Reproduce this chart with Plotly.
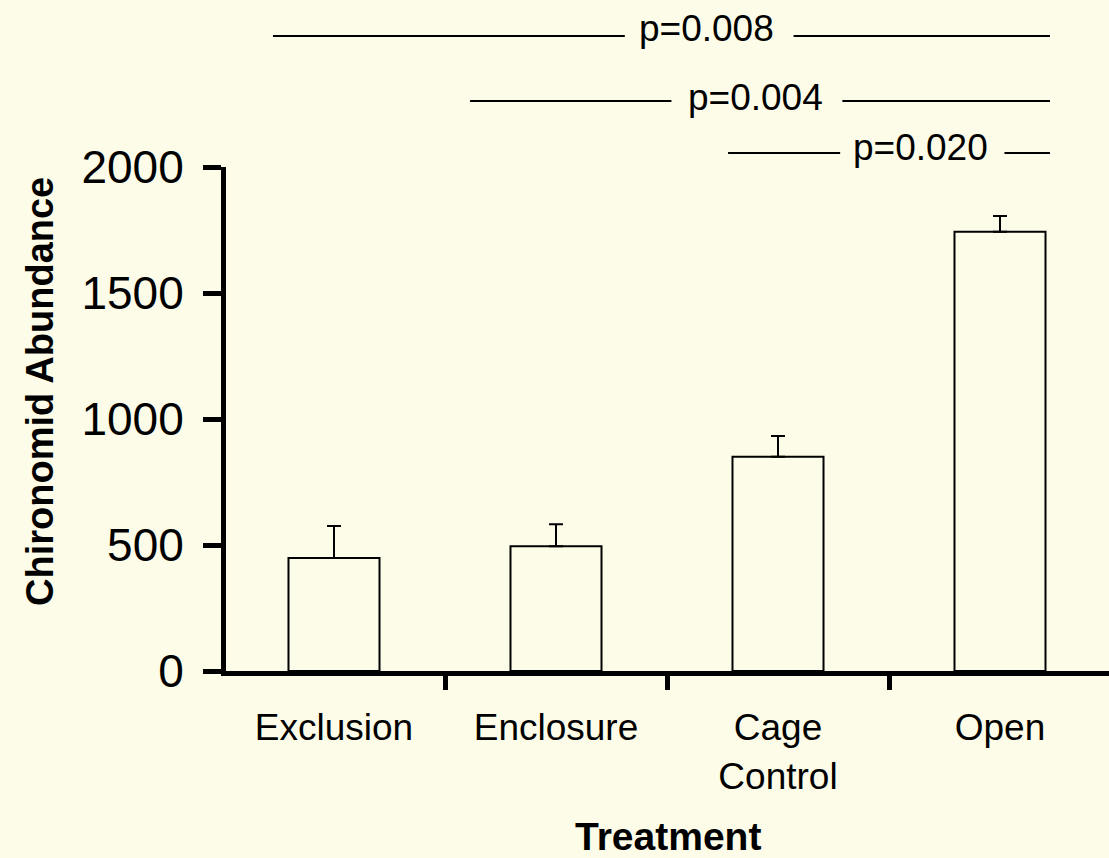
import plotly.graph_objects as go

# ---- data ----
categories = ["Exclusion", "Enclosure", "Cage<br>Control", "Open"]
abundance = [448, 495, 850, 1743]
abundance_se = [127, 87, 83, 63]
p_labels = ["p=0.008", "p=0.004", "p=0.020"]
y_ticks = [0, 500, 1000, 1500, 2000]

BG = "#FCFCE9"
FONT = "Liberation Sans, Arial, sans-serif"

fig = go.Figure()
fig.add_trace(go.Bar(
    x=categories, y=abundance, width=0.41,
    marker=dict(color=BG, line=dict(color="black", width=2)),
    error_y=dict(type="data", symmetric=False, array=abundance_se,
                 arrayminus=[0] * len(abundance_se),
                 color="black", thickness=2, width=7),
    showlegend=False,
))

fig.update_layout(
    width=1109, height=858,
    margin=dict(l=226, r=0, t=167, b=187),
    paper_bgcolor=BG, plot_bgcolor=BG,
    font=dict(family=FONT, color="black"),
    xaxis=dict(
        type="category", range=[-0.4865, 3.491],
        showline=True, linecolor="black", linewidth=5,
        ticks="outside", tickson="boundaries", ticklen=14, tickwidth=5,
        tickcolor="black", showgrid=False, zeroline=False,
        tickfont=dict(size=37, family=FONT), ticklabelstandoff=20,
    ),
    yaxis=dict(
        range=[0, 2000], tickvals=y_ticks,
        showline=True, linecolor="black", linewidth=5,
        ticks="outside", ticklen=18, tickwidth=5, tickcolor="black",
        showgrid=False, zeroline=False,
        tickfont=dict(size=46, family=FONT), ticklabelstandoff=10,
    ),
)

# axis titles
fig.add_annotation(text="<b>Treatment</b>", xref="paper", yref="paper",
                   x=0.5, y=(671 - 836) / 504, xanchor="center", yanchor="middle",
                   showarrow=False, font=dict(size=39, family=FONT))
fig.add_annotation(text="<b>Chironomid Abundance</b>", xref="paper", yref="paper",
                   x=(40 - 226) / 883, y=(671 - 392) / 504, textangle=-90,
                   xanchor="center", yanchor="middle",
                   showarrow=False, font=dict(size=38, family=FONT))

# significance brackets: (left line start, left line end, text center, right start, right end) in category units
bracket_x = [(-0.275, 1.31, 1.676, 2.07, 3.225),
             (0.613, 1.52, 1.90, 2.29, 3.225),
             (1.775, 2.28, 2.64, 3.02, 3.225)]
line_py = [36, 101, 153]
text_py = [28, 97, 148]
for lab, (a, b, c, d, e), ly, ty in zip(p_labels, bracket_x, line_py, text_py):
    yl = (671 - ly) / 504
    for x0, x1 in [(a, b), (d, e)]:
        fig.add_shape(type="line", xref="x", yref="paper", x0=x0, x1=x1,
                      y0=yl, y1=yl, line=dict(color="black", width=2))
    fig.add_annotation(text=lab, xref="x", yref="paper", x=c,
                       y=(671 - ty) / 504, xanchor="center", yanchor="middle",
                       showarrow=False, font=dict(size=37, family=FONT))

fig.write_html("out.html", config={"displayModeBar": False},
               post_script="document.body.style.margin='0';document.body.style.padding='0';")
